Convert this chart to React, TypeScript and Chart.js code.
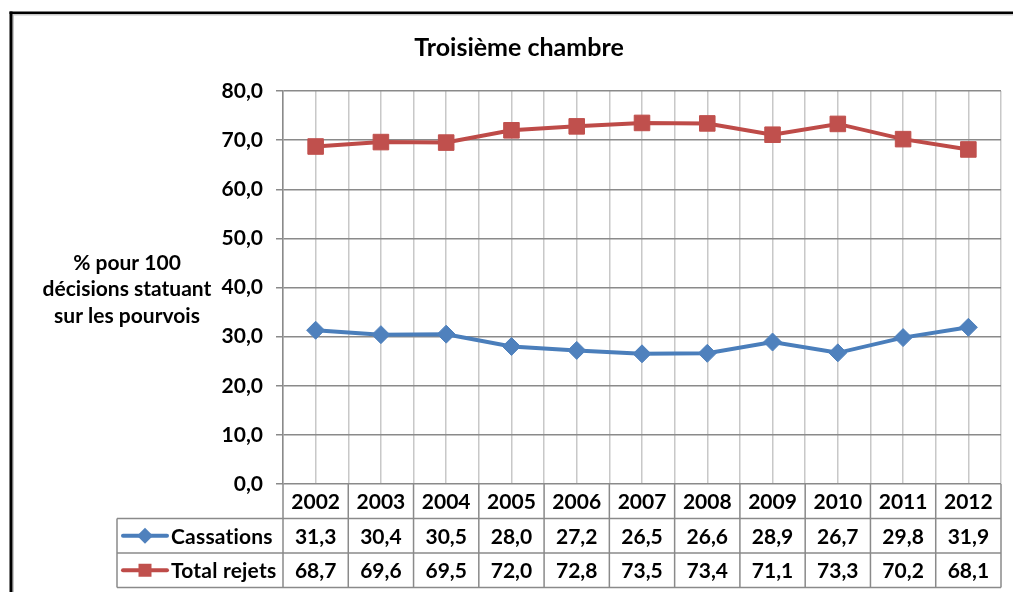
import React, { useEffect, useRef } from "react";
import { Chart, registerables } from "chart.js";

Chart.register(...registerables);

const years = ["2002", "2003", "2004", "2005", "2006", "2007", "2008", "2009", "2010", "2011", "2012"];
const cassations = [31.3, 30.4, 30.5, 28.0, 27.2, 26.5, 26.6, 28.9, 26.7, 29.8, 31.9];
const totalRejets = [68.7, 69.6, 69.5, 72.0, 72.8, 73.5, 73.4, 71.1, 73.3, 70.2, 68.1];
const seriesNames = ["Cassations", "Total rejets"];
const chartTitle = "Troisième chambre";
const yTitleLines = ["% pour 100", "décisions statuant", "sur les pourvois"];
const yMin = 0;
const yMax = 80;
const yStep = 10;

const BLUE_LINE = "#4A7EBB";
const BLUE_FILL = "#4F81BD";
const RED_LINE = "#BE4B48";
const RED_FILL = "#C0504D";
const FONT = "Lato, 'Open Sans', sans-serif";
const FS = 21;

const fmt = (v: number) => v.toFixed(1).replace(".", ",");

function drawMarker(ctx: CanvasRenderingContext2D, kind: string, x: number, y: number, color: string) {
  ctx.fillStyle = color;
  ctx.beginPath();
  if (kind === "diamond") {
    const r = 8;
    ctx.moveTo(x, y - r);
    ctx.lineTo(x + r, y);
    ctx.lineTo(x, y + r);
    ctx.lineTo(x - r, y);
    ctx.closePath();
  } else {
    const s = 13;
    ctx.rect(x - s / 2, y - s / 2, s, s);
  }
  ctx.fill();
}

const decorPlugin = {
  id: "decor",
  afterDraw(chart: any) {
    const ctx: any = chart.ctx;
    const area = chart.chartArea;
    const xs = chart.scales.x;
    ctx.save();

    // title
    ctx.fillStyle = "#000";
    ctx.font = `bold 25px ${FONT}`;
    ctx.textAlign = "center";
    ctx.textBaseline = "middle";
    ctx.fillText(chartTitle, 519, 48);

    // y title
    ctx.font = `bold ${FS}px ${FONT}`;
    yTitleLines.forEach((t, i) => ctx.fillText(t, 127, 263 + i * 26.5));

    // data table
    const top = area.bottom;
    const h1 = top + 34.5;
    const h2 = h1 + 34.5;
    const h3 = h2 + 34.5;
    const tableLeft = 117;
    ctx.strokeStyle = "#8a8a8a";
    ctx.lineWidth = 1.5;
    ctx.beginPath();
    [h1, h2, h3].forEach((y) => {
      ctx.moveTo(tableLeft, y);
      ctx.lineTo(area.right, y);
    });
    ctx.moveTo(tableLeft, h1);
    ctx.lineTo(tableLeft, h3);
    for (let i = 0; i <= years.length; i++) {
      const x = xs.getPixelForValue(i - 0.5);
      ctx.moveTo(x, top);
      ctx.lineTo(x, h3);
    }
    ctx.stroke();

    ctx.fillStyle = "#000";
    ctx.font = `bold ${FS}px ${FONT}`;
    ctx.textAlign = "center";
    years.forEach((yr, i) => {
      const x = xs.getPixelForValue(i);
      ctx.fillText(yr, x, (top + h1) / 2 + 1);
      ctx.fillText(fmt(cassations[i]), x, (h1 + h2) / 2 + 1);
      ctx.fillText(fmt(totalRejets[i]), x, (h2 + h3) / 2 + 1);
    });

    // legend keys
    const rows = [
      { y: (h1 + h2) / 2, line: BLUE_LINE, fill: BLUE_FILL, kind: "diamond", name: seriesNames[0] },
      { y: (h2 + h3) / 2, line: RED_LINE, fill: RED_FILL, kind: "square", name: seriesNames[1] },
    ];
    rows.forEach((r) => {
      ctx.strokeStyle = r.line;
      ctx.lineWidth = 4;
      ctx.lineCap = "round";
      ctx.beginPath();
      ctx.moveTo(123, r.y);
      ctx.lineTo(167, r.y);
      ctx.stroke();
      drawMarker(ctx, r.kind, 145, r.y, r.fill);
      ctx.fillStyle = "#000";
      ctx.textAlign = "left";
      ctx.letterSpacing = "0.2px";
      ctx.fillText(r.name, 171, r.y + 1);
      ctx.letterSpacing = "0px";
    });

    // frame
    ctx.fillStyle = "#c8c8c8";
    ctx.fillRect(12.5, 14, 1.5, 600);
    ctx.fillRect(12.5, 14, 1100, 1.5);
    ctx.fillStyle = "#000";
    ctx.fillRect(9.5, 11.5, 3, 600);
    ctx.fillRect(9.5, 11.5, 1100, 2.5);
    ctx.restore();
  },
};

export default function App() {
  const ref = useRef<HTMLCanvasElement>(null);
  useEffect(() => {
    if (!ref.current) return;
    const chart = new Chart(ref.current, {
      type: "line",
      data: {
        datasets: [
          {
            label: seriesNames[0],
            data: cassations.map((v, i) => ({ x: i, y: v })),
            borderColor: BLUE_LINE,
            backgroundColor: BLUE_FILL,
            borderWidth: 4,
            pointStyle: "rectRot",
            pointRadius: 9,
            pointBorderWidth: 1,
            pointBorderColor: BLUE_FILL,
            pointBackgroundColor: BLUE_FILL,
            tension: 0,
          },
          {
            label: seriesNames[1],
            data: totalRejets.map((v, i) => ({ x: i, y: v })),
            borderColor: RED_LINE,
            backgroundColor: RED_FILL,
            borderWidth: 4,
            pointStyle: "rect",
            pointRadius: 11,
            pointBorderWidth: 1,
            pointBorderColor: RED_FILL,
            pointBackgroundColor: RED_FILL,
            tension: 0,
          },
        ],
      },
      options: {
        responsive: false,
        animation: false,
        layout: { padding: { left: 0, top: 91, right: 10, bottom: 108 } },
        plugins: {
          legend: { display: false },
          title: { display: false },
          tooltip: { enabled: false },
        },
        scales: {
          x: {
            type: "linear",
            min: -0.5,
            max: years.length - 0.5,
            ticks: { display: false, stepSize: 0.5 },
            grid: { color: "#c8c8c8", lineWidth: 1.5, drawTicks: false },
            border: { display: false },
            afterFit: (s: any) => {
              s.height = 0;
            },
          },
          y: {
            min: yMin,
            max: yMax,
            ticks: {
              stepSize: yStep,
              color: "#000",
              font: { family: FONT, size: FS, weight: "bold" },
              padding: 13,
              callback: (v: any) => fmt(Number(v)),
            },
            grid: { color: "#8a8a8a", lineWidth: 1.5, tickLength: 7, tickColor: "#8a8a8a" },
            border: { color: "#8a8a8a", width: 1.5 },
            afterFit: (s: any) => {
              s.width = 283;
            },
          },
        },
      },
      plugins: [decorPlugin],
    } as any);
    return () => chart.destroy();
  }, []);
  return (
    <div style={{ position: "absolute", left: 0, top: 0, width: 1013, height: 592, background: "#fff" }}>
      <canvas ref={ref} width={1013} height={592} style={{ display: "block", width: 1013, height: 592 }} />
    </div>
  );
}
